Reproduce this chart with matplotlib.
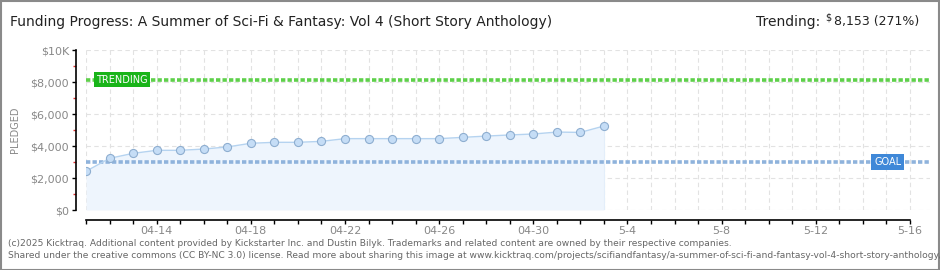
import matplotlib
matplotlib.use("Agg")
import matplotlib.pyplot as plt
import matplotlib.dates as mdates
from matplotlib.patches import Rectangle
import numpy as np
import datetime as dt

# ---- data ----
dates = ["2025-04-11", "2025-04-12", "2025-04-13", "2025-04-14", "2025-04-15",
         "2025-04-16", "2025-04-17", "2025-04-18", "2025-04-19", "2025-04-20",
         "2025-04-21", "2025-04-22", "2025-04-23", "2025-04-24", "2025-04-25",
         "2025-04-26", "2025-04-27", "2025-04-28", "2025-04-29", "2025-04-30",
         "2025-05-01", "2025-05-02", "2025-05-03"]
pledged = [2420, 3230, 3540, 3730, 3730, 3810, 3940, 4170, 4230, 4230,
           4290, 4460, 4460, 4460, 4460, 4460, 4540, 4620, 4690, 4750,
           4870, 4850, 5250]
goal = 3000
trending = 8153
trending_pct = 271
x_tick_dates = ["2025-04-14", "2025-04-18", "2025-04-22", "2025-04-26", "2025-04-30",
                "2025-05-04", "2025-05-08", "2025-05-12", "2025-05-16"]
x_tick_labels = ["04-14", "04-18", "04-22", "04-26", "04-30", "5-4", "5-8", "5-12", "5-16"]
y_ticks = [0, 2000, 4000, 6000, 8000, 10000]
y_tick_labels = ["$0", "$2,000", "$4,000", "$6,000", "$8,000", "$10K"]
start_date = "2025-04-11"
end_date = "2025-05-16"

FONT = ['Liberation Sans Narrow', 'DejaVu Sans']
plt.rcParams['font.family'] = FONT

W, H = 940, 270
fig = plt.figure(figsize=(W / 100, H / 100), dpi=100)
fig.patch.set_facecolor('white')

def fx(px):
    return px / W

def fy(py):
    return 1 - py / H

x = [mdates.date2num(dt.datetime.strptime(d, "%Y-%m-%d")) for d in dates]
x0 = mdates.date2num(dt.datetime.strptime(start_date, "%Y-%m-%d"))
x1 = mdates.date2num(dt.datetime.strptime(end_date, "%Y-%m-%d"))
px_per_day = (910 - 86) / (x1 - x0)
xmax = x0 + (930 - 86) / px_per_day

ax = fig.add_axes([fx(86), fy(210), fx(930 - 86), (210 - 50) / H])
ax.set_xlim(x0, xmax)
ax.set_ylim(0, 10000)
ax.set_facecolor('none')

# grid
for d in np.arange(x0, x1 + 0.5, 1):
    ax.axvline(d, color='#e2e2e2', lw=0.8, ls=(0, (4, 3)), zorder=0)
for yv in y_ticks:
    ax.axhline(yv, color='#e2e2e2', lw=0.8, ls=(0, (4, 3)), zorder=0)

# fill & line
ax.fill_between(x, pledged, 0, color='#eef5fd', zorder=1, lw=0)
ax.plot([x[-1], x[-1]], [0, pledged[-1]], color='#e3eefa', lw=0.8, zorder=1)
ax.plot(x, pledged, color='#b5d3f0', lw=1.0, zorder=3)
ax.scatter(x, pledged, s=34, facecolor='#c5ddf6', edgecolor='#8eaed0', lw=0.8, zorder=4)

# goal and trending lines
ax.axhline(goal, color='#8fb3dc', lw=2.6, ls=(0, (1.2, 0.6)), zorder=2)
ax.axhline(trending, color='#5ed04a', lw=2.6, ls=(0, (1.2, 0.6)), zorder=2)

# labels for lines
ax.text(x0 + (96 - 86) / px_per_day, trending, "TRENDING", color='white', fontsize=7,
        family='DejaVu Sans', va='center', ha='left', zorder=6,
        bbox=dict(boxstyle='square,pad=0.22', fc='#19b419', ec='none'))
ax.text(x0 + (874 - 86) / px_per_day, goal, "GOAL", color='white', fontsize=7,
        family='DejaVu Sans', va='center', ha='left', zorder=6,
        bbox=dict(boxstyle='square,pad=0.28', fc='#3f88d8', ec='none'))

# spines
for s in ['top', 'right']:
    ax.spines[s].set_visible(False)
ax.spines['left'].set_position(('outward', 7.2))
ax.spines['bottom'].set_position(('outward', 7.2))
ax.spines['left'].set_bounds(0, 10000)
ax.spines['bottom'].set_bounds(x0, x1)
ax.spines['left'].set_color('black')
ax.spines['bottom'].set_color('black')
ax.spines['left'].set_linewidth(1.2)
ax.spines['bottom'].set_linewidth(1.2)

ax.set_yticks(y_ticks)
ax.set_yticklabels(y_tick_labels)
ax.set_yticks([1000, 3000, 5000, 7000, 9000], minor=True)
ax.tick_params(axis='y', which='major', length=3, width=1, colors='black',
               labelcolor='#888888', labelsize=8, pad=2)
ax.tick_params(axis='y', which='minor', length=2.5, width=1, color='#e03030')

ax.set_xticks(np.arange(x0, x1 + 0.5, 1), minor=True)
xt = [mdates.date2num(dt.datetime.strptime(d, "%Y-%m-%d")) for d in x_tick_dates]
ax.set_xticks(xt)
ax.set_xticklabels(x_tick_labels)
ax.tick_params(axis='x', which='both', length=3, width=1, color='black',
               direction='out')
ax.tick_params(axis='x', which='major', labelcolor='#888888', labelsize=8, pad=1)

ax.set_ylabel("PLEDGED", color='#888888', fontsize=7, family='DejaVu Sans')
ax.yaxis.set_label_coords((20 - 86) / (930 - 86), 0.5)

# titles
fig.text(fx(10), fy(22), "Funding Progress: A Summer of Sci-Fi & Fantasy: Vol 4 (Short Story Anthology)",
         fontsize=10, color='#222222', va='center', ha='left')
fig.text(fx(820), fy(22), "Trending:", fontsize=10, color='#222222', va='center', ha='right')
fig.text(fx(825), fy(18), "$", fontsize=7, color='#222222', va='center', ha='left')
fig.text(fx(919), fy(22), f"{trending:,} ({trending_pct}%)", fontsize=9,
         color='#222222', va='center', ha='right')

# footer
fig.text(fx(8), fy(243), "(c)2025 Kicktraq. Additional content provided by Kickstarter Inc. and Dustin Bilyk. Trademarks and related content are owned by their respective companies.",
         fontsize=6.6, color='#666666', va='center', ha='left')
fig.text(fx(8), fy(255), "Shared under the creative commons (CC BY-NC 3.0) license. Read more about sharing this image at www.kicktraq.com/projects/scifiandfantasy/a-summer-of-sci-fi-and-fantasy-vol-4-short-story-anthology/",
         fontsize=6.6, color='#666666', va='center', ha='left', clip_on=False)

# border
fig.patches.append(Rectangle((0.5 / W, 0.5 / H), 1 - 1.5 / W, 1 - 1.5 / H, transform=fig.transFigure,
                             fill=False, ec='#8a8a8a', lw=1.5))

fig.savefig("out.png", dpi=100)
